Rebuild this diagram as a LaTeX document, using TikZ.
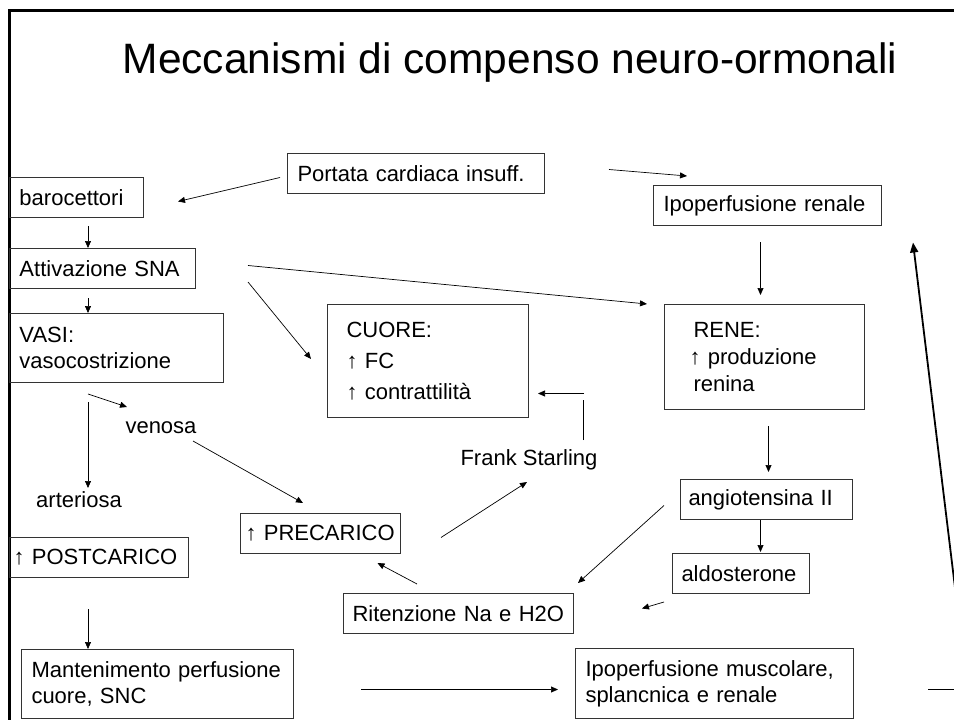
\documentclass[tikz,border=0pt]{standalone}
\usepackage{fontspec}
\setmainfont{Liberation Sans}
\usetikzlibrary{arrows.meta,calc}
\newcommand\uarr{↑}
\newcommand\bodyf{\fontsize{22}{26}\selectfont\hyphenpenalty=10000\exhyphenpenalty=10000}
\tikzset{
  bx/.style={draw=black!80, line width=1pt, anchor=north west, inner xsep=10pt,
    inner ysep=0pt, align=left, font=\bodyf},
  lbl/.style={font=\bodyf, inner sep=0pt},
  arr/.style={-{Triangle[length=7pt,width=6pt]}, line width=0.7pt},
  thickarr/.style={-{Triangle[length=10pt,width=8pt]}, line width=1.8pt},
}
\begin{document}
\begin{tikzpicture}[x=1pt,y=-1pt]
\useasboundingbox (0,0) rectangle (954,720);
\clip (0,0) rectangle (954,720);
% frame
\draw[line width=2.4pt] (9.5,725) -- (9.5,10.5) -- (960,10.5);
% title
\node[anchor=base, font=\fontsize{42.5}{50}\selectfont, inner sep=0pt] (title) at (510,73) {Meccanismi di compenso neuro-ormonali};
% boxes
\node[bx, text width=237pt, minimum height=40pt] (portata) at (287,153) {Portata cardiaca insuff.};
\node[bx, text width=114pt, minimum height=40pt] (baro) at (9,177) {barocettori};
\node[bx, text width=166pt, minimum height=40pt] (attiv) at (9,248) {Attivazione SNA};
\node[bx, text width=194pt, minimum height=69pt] (vasi) at (9,313) {VASI:\\vasocostrizione};
\node[bx, inner xsep=19pt, text width=163pt, minimum height=113pt, font=\bodyf\fontsize{22}{31}\selectfont] (cuore) at (327,304) {CUORE:\\\uarr{} FC\\\uarr{} contrattilità};
\node[bx, text width=208pt, minimum height=40pt] (ipren) at (653,185) {Ipoperfusione renale};
\node[bx, inner xsep=25pt, text width=150pt, minimum height=105pt, font=\bodyf\fontsize{22}{27}\selectfont] (rene) at (664,304) {\hspace{4pt}RENE:\\\uarr{} produzione\\\hspace{4pt}renina};
\node[bx, inner xsep=8pt, text width=156pt, minimum height=40pt] (angio) at (680,479) {angiotensina II};
\node[bx, inner xsep=9pt, text width=119pt, minimum height=40pt] (aldo) at (672,553) {aldosterone};
\node[bx, inner xsep=5pt, text width=150pt, minimum height=40pt] (precar) at (240,513) {\uarr{} PRECARICO};
\node[bx, inner xsep=4pt, text width=171pt, minimum height=40pt] (post) at (9,537) {\uarr{} POSTCARICO};
\node[bx, inner xsep=9pt, text width=212pt, minimum height=40pt] (riten) at (343,593) {Ritenzione Na e H2O};
\node[bx, text width=252pt, minimum height=69pt] (mant) at (21,649) {Mantenimento perfusione\\cuore, SNC};
\node[bx, text width=258pt, minimum height=70pt] (ipomus) at (575,648) {Ipoperfusione muscolare,\\splancnica e renale};
% free labels
\node[lbl] (art) at (79,500) {arteriosa};
\node[lbl] (ven) at (161,428) {venosa};
\node[lbl] (frank) at (529,460) {Frank Starling};
% column coordinates
\coordinate (colx) at (88,0);
% connectors
\draw[arr] ([shift={(-7,4)}]portata.west) -- ([shift={(34,4)}]baro.east);
\draw[arr, shorten <=8pt] (baro.south -| colx) -- (attiv.north -| colx);
\draw[arr, shorten <=9pt] (attiv.south -| colx) -- (vasi.north -| colx);
\draw[arr] ([shift={(52,-3)}]attiv.east) -- ([shift={(-17,0)}]rene.north west);
\draw[arr] ([shift={(52,-7)}]attiv.south east) -- ([shift={(-16,-2)}]cuore.west);
\draw[arr, shorten <=19pt] (vasi.south -| colx) -- ([shift={(9,-12)}]art.center);
\draw[arr] ([shift={(79,11)}]vasi.south west) -- ([shift={(-34,-21)}]ven.center);
\draw[arr] ([shift={(32,13)}]ven.center) -- ([shift={(63,-10)}]precar.north west);
\draw[arr] ([shift={(40,4)}]precar.east) -- ([shift={(-2,22)}]frank.center);
\draw[line width=0.7pt] ([shift={(54,-20)}]frank.center) -- ++(0,-40);
\draw[arr] ([shift={(55,32.5)}]cuore.east) -- ([shift={(9,32.5)}]cuore.east);
\draw[arr] ([shift={(74,-9)}]riten.north west) -- ([shift={(57,9)}]precar.south);
\draw[arr] ([shift={(-16,6)}]angio.west) -- ([shift={(4,-10)}]riten.north east);
\draw[arr] ([shift={(-8,8)}]aldo.south west) -- ([shift={(68,-5)}]riten.east);
\draw[arr] ([shift={(-6,0)}]angio.south) -- ([shift={(19.5,-1)}]aldo.north);
\draw[arr] ([shift={(4,16)}]rene.south) -- ([shift={(2,-7)}]angio.north);
\draw[arr] ([shift={(-7,16)}]ipren.south) -- ([shift={(-4,-9)}]rene.north);
\draw[arr] ([shift={(64,-4)}]portata.east) -- ([shift={(34,-9)}]ipren.north west);
\draw[arr, shorten <=31pt] (post.south -| colx) -- (mant.north -| colx);
\draw[arr] ([shift={(67,5.5)}]mant.east) -- ([shift={(-17,6)}]ipomus.west);
% loop back on the right
\draw[line width=1pt] ([shift={(74,6)}]ipomus.east) -- ++(40,0);
\draw[thickarr] ([shift={(77,415)}]ipren.east) -- ([shift={(31,37)}]ipren.east);
\end{tikzpicture}
\end{document}
